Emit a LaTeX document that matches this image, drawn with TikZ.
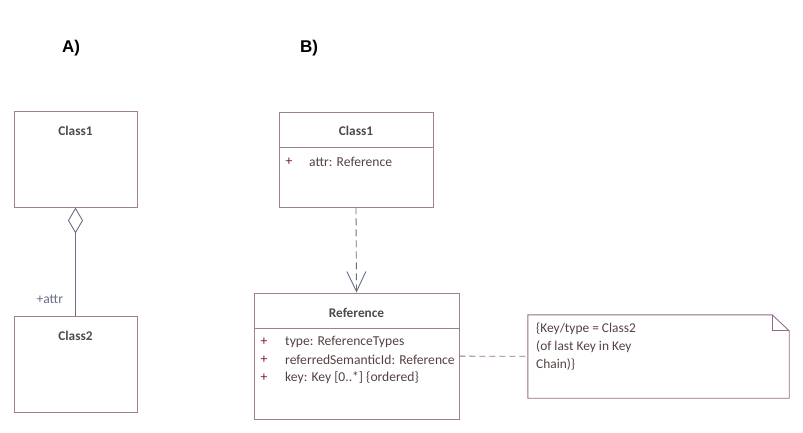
\documentclass[tikz,border=0pt]{standalone}
\usepackage{fontspec}
\setmainfont{Carlito}
\newfontfamily\headfont{Liberation Sans}
\usepackage{tikz}
\usetikzlibrary{arrows.meta, positioning}
\definecolor{boxcol}{RGB}{160,130,132}
\definecolor{notecol}{RGB}{150,105,140}
\definecolor{linkcol}{RGB}{105,110,135}
\definecolor{titlecol}{RGB}{75,75,75}
\definecolor{attrcol}{RGB}{85,65,65}
\definecolor{pluscol}{RGB}{130,20,50}
\tikzstyle{classbox} = [rectangle, draw=boxcol, line width=0.9pt, inner sep=0pt]
\tikzstyle{title} = [font=\fontsize{13.3}{15}\selectfont\bfseries, text=titlecol]
\tikzstyle{attr} = [anchor=west, inner sep=0pt, text=attrcol]
\tikzstyle{vis} = [inner sep=0pt, text=pluscol]
\tikzset{
  head/.style={font=\headfont\fontsize{17}{20}\selectfont\bfseries},
  divider/.style={draw=boxcol, line width=0.9pt},
  aggr/.style={draw=linkcol, line width=0.9pt, -{Diamond[open, length=26pt, width=15pt]}},
  dep/.style={draw=linkcol, line width=0.9pt, dash pattern=on 7pt off 4pt, -{Straight Barb[length=20pt, width=19pt]}},
  notelink/.style={draw=notecol, line width=0.9pt, dash pattern=on 6pt off 4pt},
  notebox/.style={draw=notecol, line width=0.9pt, line join=miter},
}

\begin{document}
\begin{tikzpicture}[x=1pt, y=-1pt, font=\fontsize{13.6}{16}\selectfont]
\useasboundingbox (0,0) rectangle (803,432);

% A) aggregation
\node (headA) [head] at (71,48) {A)};
\node (a1) [classbox, minimum width=123pt, minimum height=96pt] at (75.5,159) {};
\node (a2) [classbox, minimum width=123pt, minimum height=96pt] at (75.5,364) {};
\node (a1t) [title] at ([yshift=-20pt]a1.north) {Class1};
\node (a2t) [title] at ([yshift=-20pt]a2.north) {Class2};
\draw [aggr] (a2) -- node[anchor=east, pos=0.15, xshift=-11pt, text=linkcol, inner sep=1pt] {+attr} (a1);

% B) reference
\node (headB) [head] at (309,48) {B)};
\node (b1) [classbox, minimum width=154pt, minimum height=95pt] at (356,159.5) {};
\node (b1t) [title] at ([yshift=-19pt]b1.north) {Class1};
\draw [divider] ([yshift=-36pt]b1.north west) -- ([yshift=-36pt]b1.north east);
\node (b1p) [vis] at (289,162) {+};
\node (b1a) [attr] at (309,162) {attr: Reference};

\node (ref) [classbox, minimum width=205pt, minimum height=126pt] at (356.5,356) {};
\node (reft) [title] at ([yshift=-20pt]ref.north) {Reference};
\draw [divider] ([yshift=-36pt]ref.north west) -- ([yshift=-36pt]ref.north east);
\node (refp1) [vis] at (264,342) {+};
\node (refp2) [vis] at (264,360) {+};
\node (refp3) [vis] at (264,378) {+};
\node (refa1) [attr] at (285,342) {type: ReferenceTypes};
\node (refa2) [attr] at (285,360) {referredSemanticId: Reference};
\node (refa3) [attr] at (285,378) {key: Key [0..*] \{ordered\}};

\draw [dep] (b1.south) -- (ref.north);

% constraint note
\node (note) [rectangle, minimum width=261pt, minimum height=83pt, inner sep=0pt] at (658.5,356.5) {};
\draw [notebox] (note.north west) -- ([xshift=-17pt]note.north east) -- ([yshift=-16pt]note.north east)
  -- (note.south east) -- (note.south west) -- cycle;
\draw [notebox] ([xshift=-17pt]note.north east) |- ([yshift=-16pt]note.north east);
\node (notet) [anchor=north west, align=left, inner sep=0pt, text=attrcol,
  font=\fontsize{13.4}{18}\selectfont] at (536,323) {\{Key/type = Class2\\(of last Key in Key\\Chain)\}};
\draw [notelink] (ref) -- (note);
\end{tikzpicture}
\end{document}
